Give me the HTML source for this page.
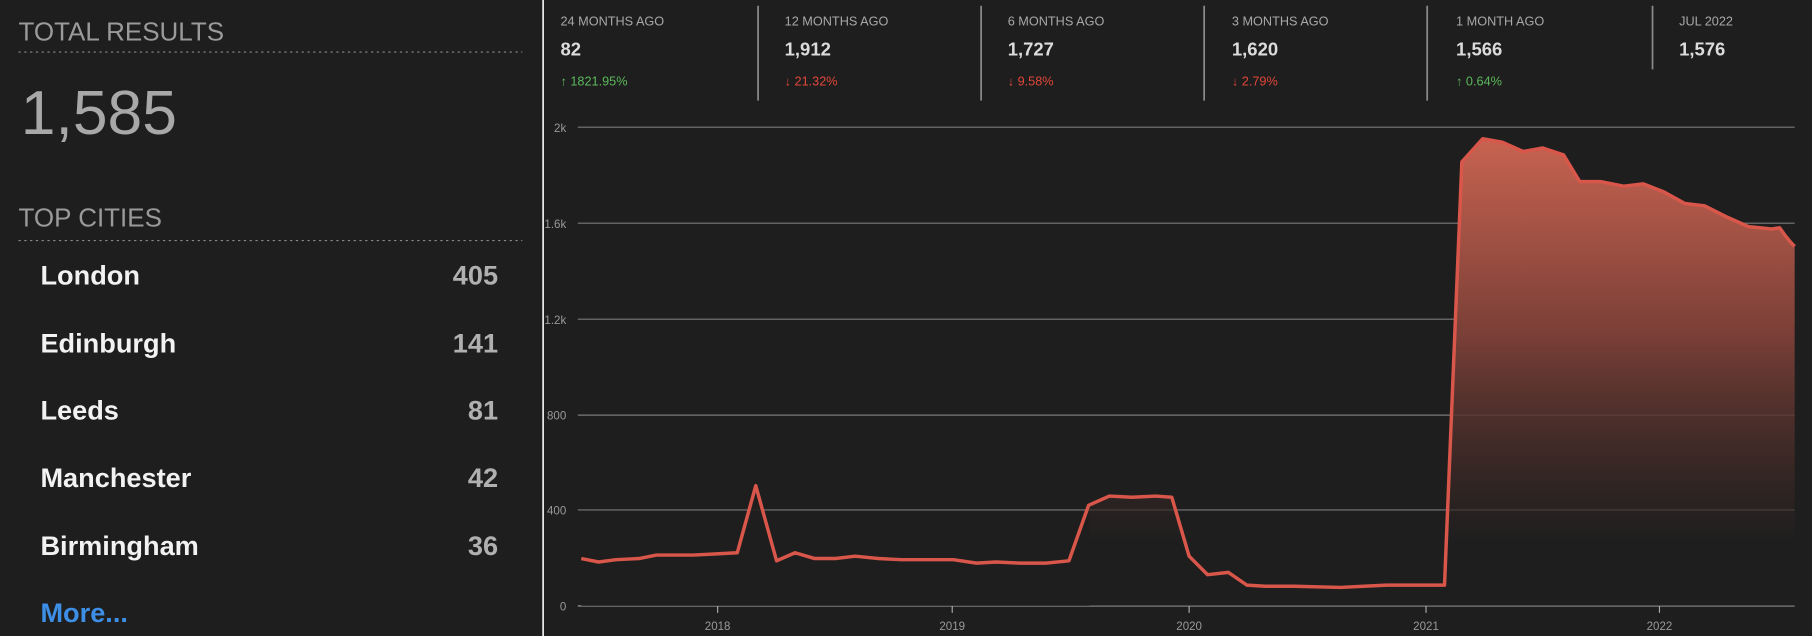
<!DOCTYPE html>
<html><head><meta charset="utf-8"><style>
html,body{margin:0;padding:0;background:#1e1e1e;width:1812px;height:636px;overflow:hidden}
svg{display:block}
text{font-family:"Liberation Sans",sans-serif}
</style></head><body>
<svg width="1812" height="636" viewBox="0 0 1568 550" preserveAspectRatio="none">
<defs>
<linearGradient id="g" x1="0" y1="110" x2="0" y2="470" gradientUnits="userSpaceOnUse">
<stop offset="0" stop-color="#cc6552"/>
<stop offset="0.5" stop-color="#7a3f37"/>
<stop offset="1" stop-color="#1e1e1e" stop-opacity="0.6"/>
</linearGradient>
</defs>
<rect width="1568" height="550" fill="#1e1e1e"/>
<text x="16" y="35" font-size="22.5" fill="#9a9a9a">TOTAL RESULTS</text>
<line x1="16" y1="45" x2="452" y2="45" stroke="#888" stroke-width="1" stroke-dasharray="2,3"/>
<text x="18" y="116" font-size="54" fill="#a8a8a8">1,585</text>
<text x="16" y="196" font-size="22.5" fill="#9a9a9a">TOP CITIES</text>
<line x1="16" y1="208" x2="452" y2="208" stroke="#888" stroke-width="1" stroke-dasharray="2,3"/>
<g font-size="23.5" font-weight="bold">
<text x="35" y="246" fill="#f2f2f2">London</text><text x="431" y="246" fill="#b0b0b0" text-anchor="end">405</text>
<text x="35" y="305" fill="#f2f2f2">Edinburgh</text><text x="431" y="305" fill="#b0b0b0" text-anchor="end">141</text>
<text x="35" y="363" fill="#f2f2f2">Leeds</text><text x="431" y="363" fill="#b0b0b0" text-anchor="end">81</text>
<text x="35" y="421" fill="#f2f2f2">Manchester</text><text x="431" y="421" fill="#b0b0b0" text-anchor="end">42</text>
<text x="35" y="480" fill="#f2f2f2">Birmingham</text><text x="431" y="480" fill="#b0b0b0" text-anchor="end">36</text>
<text x="35" y="538" fill="#3d8fe6">More...</text>
</g>
<line x1="470" y1="0" x2="470" y2="550" stroke="#e8e8e8" stroke-width="1.5"/>
<g font-size="11" fill="#a8a8a8">
<text x="485" y="22">24 MONTHS AGO</text><text x="679" y="22">12 MONTHS AGO</text><text x="872" y="22">6 MONTHS AGO</text><text x="1066" y="22">3 MONTHS AGO</text><text x="1260" y="22">1 MONTH AGO</text><text x="1453" y="22">JUL 2022</text>
</g>
<g font-size="16" font-weight="bold" fill="#dcdcdc">
<text x="485" y="48">82</text><text x="679" y="48">1,912</text><text x="872" y="48">1,727</text><text x="1066" y="48">1,620</text><text x="1260" y="48">1,566</text><text x="1453" y="48">1,576</text>
</g>
<g font-size="11">
<text x="485" y="74" fill="#5cb85c">↑ 1821.95%</text>
<text x="679" y="74" fill="#e0463a">↓ 21.32%</text>
<text x="872" y="74" fill="#e0463a">↓ 9.58%</text>
<text x="1066" y="74" fill="#e0463a">↓ 2.79%</text>
<text x="1260" y="74" fill="#5cb85c">↑ 0.64%</text>
</g>
<g stroke="#8a8a8a" stroke-width="1.5">
<line x1="656" y1="5" x2="656" y2="87"/><line x1="849" y1="5" x2="849" y2="87"/><line x1="1042" y1="5" x2="1042" y2="87"/><line x1="1235" y1="5" x2="1235" y2="87"/><line x1="1430" y1="5" x2="1430" y2="60"/>
</g>
<g stroke="#7a7a7a" stroke-width="1">
<line x1="500" y1="110" x2="1553" y2="110"/><line x1="500" y1="193" x2="1553" y2="193"/><line x1="500" y1="276" x2="1553" y2="276"/><line x1="500" y1="359" x2="1553" y2="359"/><line x1="500" y1="441" x2="1553" y2="441"/><line x1="500" y1="524" x2="1553" y2="524" stroke="#aaa"/>
</g>
<g font-size="10" fill="#999" text-anchor="end">
<text x="490" y="114">2k</text><text x="490" y="197">1.6k</text><text x="490" y="280">1.2k</text><text x="490" y="363">800</text><text x="490" y="445">400</text><text x="490" y="528">0</text>
</g>
<g stroke="#aaa"><line x1="621" y1="524" x2="621" y2="530"/><line x1="824" y1="524" x2="824" y2="530"/><line x1="1029" y1="524" x2="1029" y2="530"/><line x1="1234" y1="524" x2="1234" y2="530"/><line x1="1436" y1="524" x2="1436" y2="530"/></g>
<g font-size="10" fill="#999" text-anchor="middle">
<text x="621" y="545">2018</text><text x="824" y="545">2019</text><text x="1029" y="545">2020</text><text x="1234" y="545">2021</text><text x="1436" y="545">2022</text>
</g>
<path fill="url(#g)" d="M503,483 L518,486 L533,484 L553,483 L568,480 L600,480 L620,479 L638,478 L654,420 L672,485 L688,478 L705,483 L723,483 L740,481 L760,483 L780,484 L800,484 L825,484 L845,487 L862,486 L883,487 L905,487 L925,485 L942,437 L960,429 L980,430 L1000,429 L1014,430 L1029,481 L1045,497 L1063,495 L1079,506 L1095,507 L1120,507 L1160,508 L1180,507 L1200,506 L1230,506 L1250,506 L1265,140 L1283,120 L1300,123 L1318,131 L1335,128 L1353,134 L1367,157 L1385,157 L1405,161 L1422,159 L1440,166 L1458,176 L1475,178 L1495,188 L1513,196 L1533,198 L1540,197 L1545,204 L1550,210 L1553,213 L1553,524 L503,524 Z"/>
<path fill="#1e1e1e" d="M503,483 L518,486 L533,484 L553,483 L568,480 L600,480 L620,479 L638,478 L654,420 L672,485 L688,478 L705,483 L723,483 L740,481 L760,483 L780,484 L800,484 L825,484 L845,487 L862,486 L883,487 L905,487 L925,485 L942,437 L943,524 L503,524 Z" opacity="0.7"/>
<path fill="none" stroke="#d9564a" stroke-width="3" stroke-linejoin="round" d="M503,483 L518,486 L533,484 L553,483 L568,480 L600,480 L620,479 L638,478 L654,420 L672,485 L688,478 L705,483 L723,483 L740,481 L760,483 L780,484 L800,484 L825,484 L845,487 L862,486 L883,487 L905,487 L925,485 L942,437 L960,429 L980,430 L1000,429 L1014,430 L1029,481 L1045,497 L1063,495 L1079,506 L1095,507 L1120,507 L1160,508 L1180,507 L1200,506 L1230,506 L1250,506 L1265,140 L1283,120 L1300,123 L1318,131 L1335,128 L1353,134 L1367,157 L1385,157 L1405,161 L1422,159 L1440,166 L1458,176 L1475,178 L1495,188 L1513,196 L1533,198 L1540,197 L1545,204 L1550,210 L1553,213"/>
</svg>
</body></html>
